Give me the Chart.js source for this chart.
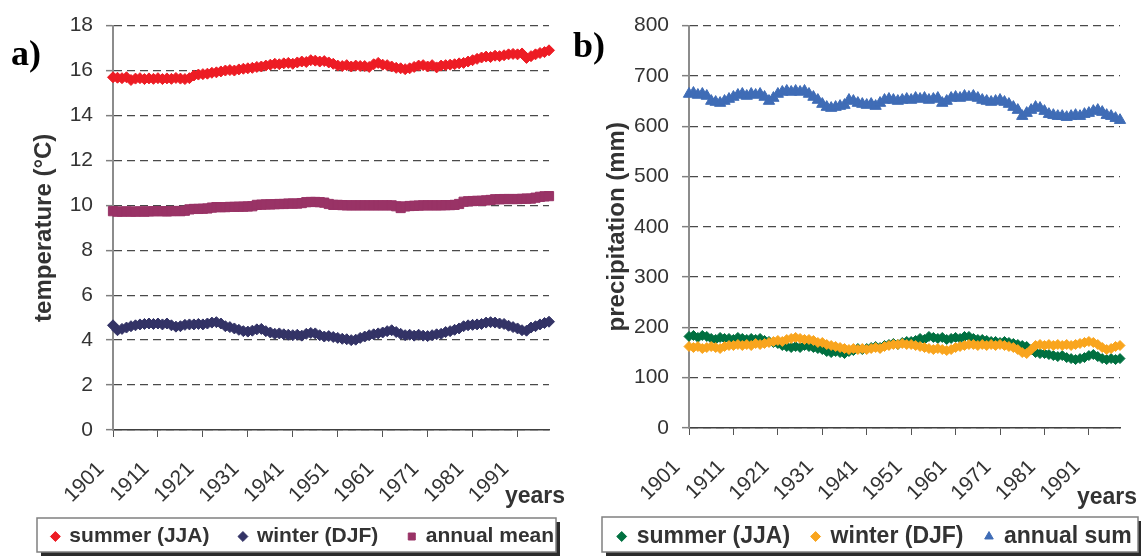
<!DOCTYPE html>
<html>
<head>
<meta charset="utf-8">
<script src="https://cdn.jsdelivr.net/npm/chart.js@4.4.0/dist/chart.umd.min.js"></script>
<style>
  body { margin: 0; background: #fff; width: 1141px; height: 559px; overflow: hidden; position: relative; }
  canvas { position: absolute; top: 0; }
  #tempChart { left: 0; }
  #precChart { left: 570px; }
</style>
</head>
<body>
<canvas id="tempChart" width="570" height="559"></canvas>
<canvas id="precChart" width="571" height="559"></canvas>
<script>
// years 1901..1998, one point per year
const years = Array.from({ length: 98 }, (_, i) => String(1901 + i));
const tickYears = ['1901', '1911', '1921', '1931', '1941', '1951', '1961', '1971', '1981', '1991'];

// temperature (°C)
const summerTemp = [
  15.70, 15.68, 15.66, 15.70, 15.58, 15.64, 15.66, 15.62, 15.65, 15.63,
  15.66, 15.62, 15.65, 15.63, 15.67, 15.64, 15.62, 15.66, 15.78, 15.82,
  15.84, 15.86, 15.90, 15.92, 15.96, 16.00, 16.02, 16.00, 16.05, 16.08,
  16.10, 16.12, 16.16, 16.18, 16.22, 16.26, 16.30, 16.28, 16.32, 16.34,
  16.30, 16.36, 16.40, 16.38, 16.46, 16.44, 16.40, 16.42, 16.36, 16.30,
  16.22, 16.20, 16.24, 16.18, 16.22, 16.20, 16.20, 16.16, 16.28, 16.34,
  16.26, 16.24, 16.18, 16.12, 16.10, 16.06, 16.10, 16.16, 16.22, 16.24,
  16.18, 16.24, 16.14, 16.22, 16.24, 16.26, 16.28, 16.32, 16.34, 16.40,
  16.46, 16.52, 16.58, 16.62, 16.60, 16.66, 16.64, 16.68, 16.72, 16.74,
  16.72, 16.76, 16.56, 16.64, 16.72, 16.78, 16.82, 16.90
];
const winterTemp = [
  4.66, 4.44, 4.50, 4.56, 4.62, 4.66, 4.70, 4.72, 4.74, 4.72,
  4.74, 4.70, 4.74, 4.66, 4.60, 4.62, 4.68, 4.70, 4.70, 4.72,
  4.70, 4.74, 4.78, 4.80, 4.74, 4.62, 4.58, 4.52, 4.46, 4.40,
  4.38, 4.42, 4.48, 4.50, 4.40, 4.34, 4.28, 4.30, 4.26, 4.24,
  4.22, 4.24, 4.20, 4.28, 4.32, 4.30, 4.22, 4.16, 4.18, 4.14,
  4.10, 4.06, 4.04, 4.00, 4.02, 4.10, 4.16, 4.22, 4.26, 4.30,
  4.34, 4.40, 4.44, 4.36, 4.28, 4.22, 4.24, 4.20, 4.24, 4.20,
  4.18, 4.22, 4.26, 4.28, 4.36, 4.40, 4.46, 4.52, 4.62, 4.66,
  4.68, 4.70, 4.72, 4.78, 4.80, 4.78, 4.74, 4.72, 4.64, 4.58,
  4.52, 4.44, 4.42, 4.56, 4.62, 4.70, 4.76, 4.82
];
const annualTemp = [
  9.74, 9.72, 9.72, 9.73, 9.72, 9.72, 9.73, 9.72, 9.73, 9.74,
  9.74, 9.74, 9.73, 9.74, 9.75, 9.74, 9.76, 9.82, 9.84, 9.84,
  9.85, 9.86, 9.90, 9.92, 9.92, 9.92, 9.93, 9.93, 9.94, 9.94,
  9.95, 9.96, 10.02, 10.03, 10.04, 10.04, 10.05, 10.06, 10.06, 10.08,
  10.08, 10.08, 10.10, 10.14, 10.15, 10.15, 10.14, 10.12, 10.06, 10.02,
  10.02, 10.01, 10.00, 10.00, 10.00, 10.00, 10.00, 10.00, 10.00, 10.00,
  10.00, 10.00, 10.00, 9.96, 9.88, 9.95, 9.97, 9.98, 9.99, 10.00,
  10.00, 10.00, 10.00, 10.00, 10.01, 10.01, 10.02, 10.06, 10.16, 10.18,
  10.19, 10.20, 10.20, 10.22, 10.24, 10.27, 10.27, 10.28, 10.28, 10.28,
  10.28, 10.29, 10.30, 10.30, 10.34, 10.38, 10.40, 10.41
];

// precipitation (mm)
const summerPrec = [
  182, 184, 180, 184, 182, 178, 176, 180, 178, 178,
  176, 180, 178, 176, 178, 176, 178, 174, 172, 170,
  168, 164, 162, 160, 162, 160, 164, 162, 160, 158,
  156, 152, 150, 152, 150, 148, 152, 154, 158, 156,
  158, 160, 162, 160, 164, 166, 168, 166, 170, 172,
  172, 174, 178, 176, 182, 180, 178, 180, 176, 178,
  180, 178, 182, 182, 178, 176, 176, 174, 172, 172,
  170, 172, 170, 168, 166, 164, 162, 156, 150, 148,
  148, 146, 144, 142, 144, 140, 138, 136, 138, 140,
  144, 146, 142, 138, 136, 138, 136, 138
];
const winterPrec = [
  162, 160, 162, 158, 160, 162, 160, 158, 162, 164,
  164, 166, 164, 166, 164, 168, 166, 168, 170, 172,
  174, 172, 176, 178, 180, 178, 176, 176, 174, 170,
  170, 166, 164, 162, 160, 158, 156, 158, 156, 158,
  156, 158, 160, 158, 162, 164, 166, 166, 168, 166,
  166, 164, 162, 160, 158, 156, 158, 156, 154, 156,
  160, 162, 164, 166, 166, 164, 166, 164, 166, 164,
  166, 164, 162, 160, 156, 150, 148, 156, 164, 166,
  164, 166, 164, 166, 164, 166, 164, 166, 168, 170,
  172, 170, 166, 160, 156, 158, 162, 164
];
const annualPrec = [
  664, 666, 662, 664, 660, 650, 648, 646, 650, 654,
  658, 662, 664, 660, 664, 662, 664, 658, 650, 656,
  664, 668, 670, 668, 670, 668, 670, 664, 658, 652,
  644, 638, 636, 638, 640, 642, 652, 650, 646, 644,
  642, 644, 640, 646, 652, 654, 652, 650, 652, 654,
  652, 656, 654, 656, 652, 654, 656, 646, 650, 656,
  658, 656, 660, 658, 660, 656, 652, 650, 648, 650,
  652, 648, 644, 638, 632, 620, 626, 632, 638, 636,
  630, 624, 622, 620, 620, 618, 620, 622, 620, 624,
  626, 630, 632, 628, 622, 620, 616, 612
];

Chart.defaults.font.family = '"Liberation Sans", Arial, sans-serif';
Chart.defaults.color = '#333333';

// legend frame, "years" caption and panel letter
const panelExtras = {
  id: 'panelExtras',
  afterLayout(chart, args, opts) {
    // keep the three entries on one row, centred where the framed legend sits
    const lg = chart.legend;
    lg.lineWidths = [lg.lineWidths.reduce((a, b) => a + b, 0)];
    lg.left = opts.legendCenter - 400;
    lg.right = opts.legendCenter + 400;
    lg.width = 800;
    lg.top = opts.legendTop;
    lg.bottom = chart.height;
    lg.height = lg.bottom - lg.top;
  },
  beforeDraw(chart, args, opts) {
    const ctx = chart.ctx;
    const [x, y, w, h] = opts.box;
    ctx.save();
    ctx.fillStyle = '#2b2b2b';
    ctx.fillRect(x + 4, y + 4, w, h);
    ctx.fillStyle = '#ffffff';
    ctx.fillRect(x, y, w, h);
    ctx.strokeStyle = '#808080';
    ctx.lineWidth = 1.5;
    ctx.strokeRect(x, y, w, h);
    ctx.restore();
  },
  afterDraw(chart, args, opts) {
    const ctx = chart.ctx;
    ctx.save();
    ctx.fillStyle = '#333333';
    ctx.font = 'bold 23px "Liberation Sans", Arial, sans-serif';
    ctx.textAlign = 'center';
    ctx.textBaseline = 'middle';
    ctx.fillText('years', opts.yearsX, opts.yearsY);
    ctx.fillStyle = '#000000';
    ctx.font = 'bold 36px "Liberation Serif", "Times New Roman", serif';
    ctx.textAlign = 'left';
    ctx.textBaseline = 'alphabetic';
    ctx.fillText(opts.letter, opts.letterX, opts.letterY);
    ctx.restore();
  }
};

function markerSet(label, data, color, style, radius, order) {
  return {
    label: label,
    data: data,
    showLine: false,
    pointStyle: style,
    pointRadius: radius,
    pointHoverRadius: radius,
    pointBorderWidth: 1,
    backgroundColor: color,
    borderColor: color,
    order: order
  };
}

function panelOptions(yMin, yMax, step, title, axisWidth, titlePad, plotBottom, legendFont, legendPad, extras) {
  return {
    responsive: false,
    animation: false,
    layout: { padding: { top: 20, right: 21, bottom: 0, left: 0 } },
    plugins: {
      tooltip: { enabled: false },
      legend: {
        position: 'bottom',
        maxHeight: 40,
        labels: {
          usePointStyle: true,
          boxWidth: 7,
          boxHeight: 7,
          padding: legendPad,
          color: '#333333',
          font: { size: legendFont, weight: 'bold' },
          sort: (a, b) => a.datasetIndex - b.datasetIndex
        }
      },
      panelExtras: extras
    },
    scales: {
      x: {
        type: 'category',
        offset: false,
        afterFit: s => { s.height = s.chart.height - s.chart.legend.height - plotBottom; },
        grid: {
          drawOnChartArea: false,
          drawTicks: true,
          tickLength: 7,
          tickColor: c => (c.tick && tickYears.includes(c.tick.label)) ? '#555555' : 'rgba(0,0,0,0)'
        },
        border: { color: '#404040', width: 1.5 },
        ticks: {
          autoSkip: false,
          minRotation: 45,
          maxRotation: 45,
          padding: 20,
          labelOffset: -12,
          color: '#333333',
          font: { size: 21 },
          callback: function (v, i) {
            const y = years[i];
            return tickYears.includes(y) ? y : null;
          }
        }
      },
      y: {
        min: yMin,
        max: yMax,
        afterFit: s => { s.width = axisWidth; },
        grid: { color: '#4a4a4a', lineWidth: 1.3, tickLength: 7, tickColor: '#808080', tickWidth: 1.5 },
        border: { color: '#8c8c8c', width: 2, dash: [8, 5] },
        ticks: { stepSize: step, padding: 13, color: '#333333', font: { size: 21 } },
        title: {
          display: true,
          text: title,
          color: '#333333',
          font: { size: 24, weight: 'bold' },
          padding: { top: titlePad, bottom: 0 }
        }
      }
    }
  };
}

new Chart(document.getElementById('tempChart'), {
  type: 'line',
  data: {
    labels: years,
    datasets: [
      markerSet('summer (JJA)', summerTemp, '#ed1c24', 'rectRot', 5.5, 0),
      markerSet('winter (DJF)', winterTemp, '#333366', 'rectRot', 5.5, 0),
      markerSet('annual mean', annualTemp, '#993366', 'rect', 6.5, 0)
    ]
  },
  options: panelOptions(0, 18, 2, 'temperature (°C)', 113, 30, 430, 21, 30, {
    box: [37, 518, 519, 34], legendCenter: 303, legendTop: 496,
    yearsX: 535, yearsY: 497,
    letter: 'a)', letterX: 11, letterY: 65
  }),
  plugins: [panelExtras]
});

new Chart(document.getElementById('precChart'), {
  type: 'line',
  data: {
    labels: years,
    datasets: [
      markerSet('summer (JJA)', summerPrec, '#007040', 'rectRot', 5, 1),
      markerSet('winter (DJF)', winterPrec, '#f9a51e', 'rectRot', 5, 0),
      markerSet('annual sum', annualPrec, '#3f6cb6', 'triangle', 6.5, 0)
    ]
  },
  options: panelOptions(0, 800, 100, 'precipitation (mm)', 119, 33, 428, 23, 22, {
    box: [32, 517, 536, 35], legendCenter: 305, legendTop: 503,
    yearsX: 537, yearsY: 498,
    letter: 'b)', letterX: 3, letterY: 57
  }),
  plugins: [panelExtras]
});
</script>
</body>
</html>
